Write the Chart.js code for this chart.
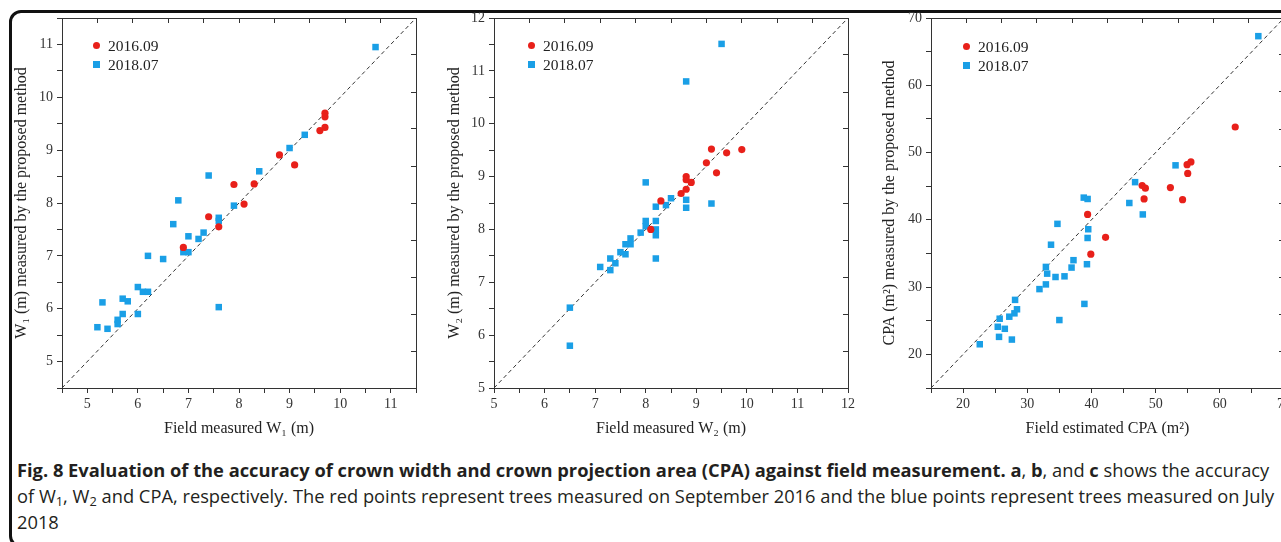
<!DOCTYPE html>
<html>
<head>
<meta charset="utf-8">
<script src="https://cdn.jsdelivr.net/npm/chart.js@4.4.1/dist/chart.umd.min.js"></script>
<style>
  html, body { margin: 0; padding: 0; background: #fff; width: 1281px; height: 542px; overflow: hidden; }
  #frame { position: absolute; left: 9px; top: 10px; width: 1400px; height: 532px; border: 3px solid #111; border-radius: 12px; }
  canvas { position: absolute; top: 0; }
  .legend { position: absolute; font-family: "Liberation Serif", "Times New Roman", serif; font-size: 15.5px; color: #222; line-height: 19px; }
  .legend div { position: relative; padding-left: 15px; }
  .mk { position: absolute; left: 0; top: 50%; }
  .dot { width: 7px; height: 7px; border-radius: 50%; background: #e8201a; margin-top: -3.5px; }
  .sq { width: 6.5px; height: 6.5px; background: #1a9fe6; margin-top: -3.2px; left: 0.3px; }
  #caption { position: absolute; left: 17px; top: 457px; font-family: "Open Sans", sans-serif; font-size: 18.3px; line-height: 26px; color: #231f20; white-space: nowrap; }
  #caption sub { font-size: 0.7em; vertical-align: -0.25em; line-height: 0; }
</style>
</head>
<body>
<div id="frame"></div>
<canvas id="chartA" width="430" height="440" style="left:0px"></canvas>
<canvas id="chartB" width="432" height="440" style="left:430px"></canvas>
<canvas id="chartC" width="428" height="440" style="left:870px"></canvas>

<div class="legend" style="left:93px; top:36px"><div><span class="mk dot"></span>2016.09</div><div><span class="mk sq"></span>2018.07</div></div>
<div class="legend" style="left:528px; top:36px"><div><span class="mk dot"></span>2016.09</div><div><span class="mk sq"></span>2018.07</div></div>
<div class="legend" style="left:963px; top:37px"><div><span class="mk dot"></span>2016.09</div><div><span class="mk sq"></span>2018.07</div></div>

<div id="caption"><b>Fig. 8 Evaluation of the accuracy of crown width and crown projection area (CPA) against field measurement. a</b>, <b>b</b>, and <b>c</b> shows the accuracy<br>of W<sub>1</sub>, W<sub>2</sub> and CPA, respectively. The red points represent trees measured on September 2016 and the blue points represent trees measured on July<br>2018</div>

<script>
// W1 (m): field measured vs. proposed method
const w1Field2016 = [6.9, 7.4, 7.6, 7.9, 8.1, 8.3, 8.8, 9.1, 9.6, 9.7, 9.7, 9.7];
const w1Model2016 = [7.16, 7.74, 7.55, 8.35, 7.98, 8.36, 8.91, 8.72, 9.37, 9.43, 9.70, 9.63];
const w1Field2018 = [10.7, 9.3, 9.0, 8.4, 7.9, 7.4, 6.8, 6.7, 7.6, 7.6, 7.3, 7.2, 7.0, 6.9, 7.0, 6.2, 6.5, 6.0, 6.1, 6.2, 5.3, 5.7, 5.8, 5.7, 6.0, 5.6, 5.6, 5.2, 5.4, 7.6];
const w1Model2018 = [10.95, 9.29, 9.04, 8.60, 7.95, 8.52, 8.05, 7.60, 7.72, 7.66, 7.44, 7.32, 7.37, 7.07, 7.07, 7.00, 6.94, 6.41, 6.32, 6.32, 6.12, 6.19, 6.14, 5.90, 5.90, 5.79, 5.71, 5.65, 5.62, 6.03];

// W2 (m)
const w2Field2016 = [8.1, 8.3, 8.7, 8.8, 8.8, 8.8, 8.9, 9.2, 9.3, 9.4, 9.6, 9.9];
const w2Model2016 = [8.00, 8.54, 8.68, 8.76, 9.00, 8.94, 8.89, 9.26, 9.52, 9.07, 9.45, 9.51];
const w2Field2018 = [9.5, 8.8, 8.0, 9.3, 8.8, 8.8, 8.5, 8.4, 8.2, 8.2, 8.2, 8.2, 8.2, 8.0, 8.0, 7.9, 7.7, 7.7, 7.6, 7.6, 7.5, 7.4, 7.3, 7.3, 7.1, 6.5, 6.5];
const w2Model2018 = [11.51, 10.80, 8.89, 8.49, 8.56, 8.41, 8.59, 8.46, 8.43, 8.16, 8.00, 7.89, 7.45, 8.16, 8.06, 7.94, 7.83, 7.72, 7.72, 7.53, 7.57, 7.36, 7.45, 7.23, 7.29, 6.52, 5.80];

// CPA (m2)
const cpaField2016 = [62.4, 55.5, 54.9, 55.0, 54.2, 52.3, 47.9, 48.4, 48.2, 42.2, 39.4, 39.9];
const cpaModel2016 = [53.8, 48.6, 48.2, 46.9, 43.0, 44.8, 45.1, 44.7, 43.1, 37.4, 40.8, 34.9];
const cpaField2018 = [66.0, 53.1, 46.8, 45.9, 48.0, 38.8, 39.4, 39.5, 39.4, 39.3, 38.9, 34.7, 33.7, 37.2, 36.9, 35.8, 34.4, 32.9, 33.1, 32.9, 31.9, 35.0, 28.1, 28.4, 28.0, 27.2, 25.7, 25.4, 26.5, 25.6, 27.6, 22.6];
const cpaModel2018 = [67.3, 48.1, 45.6, 42.5, 40.8, 43.3, 43.1, 38.6, 37.3, 33.4, 27.5, 39.4, 36.3, 34.0, 32.9, 31.6, 31.5, 33.0, 32.0, 30.4, 29.7, 25.1, 28.1, 26.7, 26.1, 25.6, 25.3, 24.1, 23.8, 22.6, 22.2, 21.5];

// axis ranges and ticks
const w1Range = [4.5, 11.5];
const w2Range = [5, 12];
const cpaRange = [15, 70];
const seriesLabels = ['2016.09', '2018.07'];

const serif = '"Liberation Serif", "Times New Roman", serif';
const red = '#e8201a';
const blue = '#1a9fe6';
const axisColor = '#333';

function pts(xs, ys) {
  return xs.map((x, i) => ({ x: x, y: ys[i] }));
}

function makePanel(id, p) {
  const lo = p.range[0], hi = p.range[1];
  const frameStep = (hi - lo) / 10;
  const isLabel = v => Math.abs(v / p.labelStep - Math.round(v / p.labelStep)) < 1e-6;
  const tickFont = { family: serif, size: 14 };
  const titleFont = { family: serif, size: 16 };

  const mainTicks = {
    stepSize: p.minor, autoSkip: false, maxRotation: 0, padding: 3,
    color: axisColor, font: tickFont,
    callback: v => isLabel(v) ? String(Math.round(v)) : ''
  };
  const base = { type: 'linear', min: lo, max: hi, border: { color: axisColor, width: 1 } };

  new Chart(document.getElementById(id), {
    type: 'scatter',
    data: {
      datasets: [
        { label: seriesLabels[0], data: pts(p.f16, p.m16), pointStyle: 'circle', pointRadius: 3.6,
          backgroundColor: red, borderColor: red, borderWidth: 0 },
        { label: seriesLabels[1], data: pts(p.f18, p.m18), pointStyle: 'rect', pointRadius: 4.6,
          backgroundColor: blue, borderColor: blue, borderWidth: 0 },
        // 1:1 line
        { label: '1:1', data: [{ x: lo, y: lo }, { x: hi, y: hi }], showLine: true,
          borderColor: '#333', borderWidth: 1, borderDash: [4, 3], pointRadius: 0 }
      ]
    },
    options: {
      responsive: false,
      animation: false,
      events: [],
      layout: { padding: 0 },
      plugins: { legend: { display: false }, tooltip: { enabled: false } },
      scales: {
        x: Object.assign({}, base, {
          position: 'bottom',
          ticks: mainTicks,
          grid: { drawOnChartArea: false, tickLength: 5, tickColor: axisColor },
          title: { display: true, text: p.xTitle, color: '#222', font: titleFont, padding: { top: 0, bottom: 2 } },
          afterFit: s => { s.height = 52; }
        }),
        y: Object.assign({}, base, {
          position: 'left',
          ticks: Object.assign({}, mainTicks, { padding: 4 }),
          grid: { drawOnChartArea: false, tickLength: 5, tickColor: axisColor },
          title: { display: true, text: p.yTitle, color: '#222', font: titleFont, padding: { top: p.titlePad, bottom: 0 } },
          afterFit: s => { s.width = p.leftW; }
        }),
        // plain frame axes, ticks point inwards
        xt: Object.assign({}, base, {
          position: 'top',
          ticks: { display: false, stepSize: frameStep },
          grid: { drawOnChartArea: false, tickLength: -5, tickColor: axisColor },
          afterFit: s => { s.height = 18; }
        }),
        yr: Object.assign({}, base, {
          position: 'right',
          ticks: { display: false, stepSize: frameStep },
          grid: { drawOnChartArea: false, tickLength: -5, tickColor: axisColor },
          afterFit: s => { s.width = 14; }
        })
      }
    }
  });
}

makePanel('chartA', {
  f16: w1Field2016, m16: w1Model2016, f18: w1Field2018, m18: w1Model2018,
  range: w1Range, minor: 0.5, labelStep: 1, leftW: 62, titlePad: 12,
  xTitle: 'Field measured W\u2081 (m)', yTitle: 'W\u2081 (m) measured by the proposed method'
});
makePanel('chartB', {
  f16: w2Field2016, m16: w2Model2016, f18: w2Field2018, m18: w2Model2018,
  range: w2Range, minor: 0.5, labelStep: 1, leftW: 64, titlePad: 15,
  xTitle: 'Field measured W\u2082 (m)', yTitle: 'W\u2082 (m) measured by the proposed method'
});
makePanel('chartC', {
  f16: cpaField2016, m16: cpaModel2016, f18: cpaField2018, m18: cpaModel2018,
  range: cpaRange, minor: 5, labelStep: 10, leftW: 61, titlePad: 10,
  xTitle: 'Field estimated CPA (m\u00b2)', yTitle: 'CPA (m\u00b2) measured by the proposed method'
});
</script>
</body>
</html>
